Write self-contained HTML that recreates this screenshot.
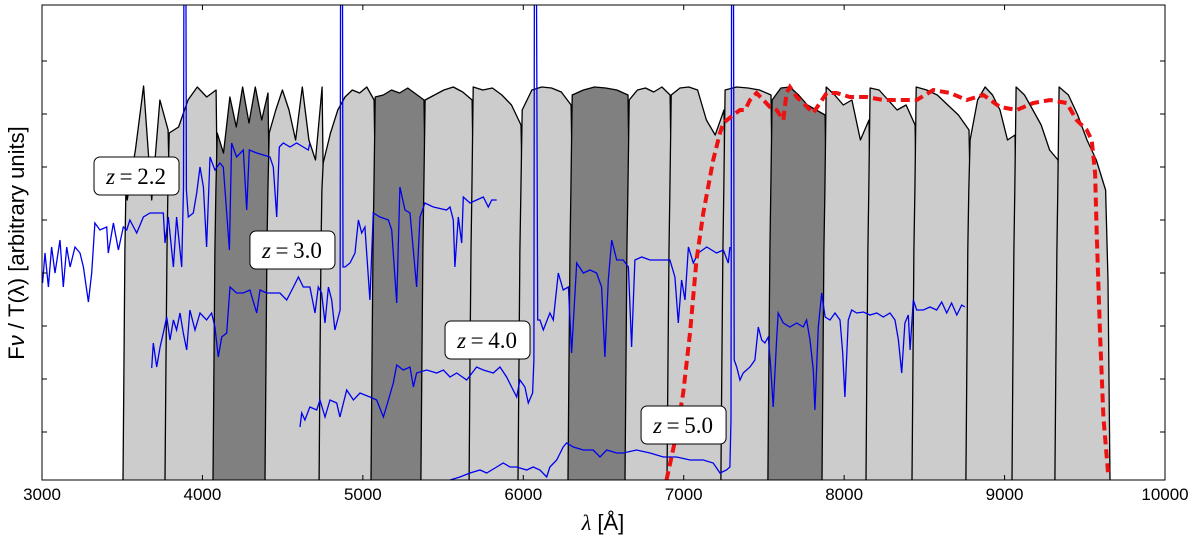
<!DOCTYPE html>
<html><head><meta charset="utf-8">
<style>
html,body{margin:0;padding:0;background:#fff;}
svg{display:block;}
</style></head>
<body>
<svg id="chart" width="1200" height="541" viewBox="0 0 1200 541" xmlns="http://www.w3.org/2000/svg" font-family="Liberation Sans, DejaVu Sans, sans-serif">
<defs><clipPath id="clip"><rect x="42" y="5" width="1123" height="475"/></clipPath></defs>
<g id="plot" clip-path="url(#clip)"></g>
<rect x="42" y="5" width="1123" height="475" fill="none" stroke="#000" stroke-width="1"/>
<g id="axes"></g>
<text x="603" y="530" text-anchor="middle" font-size="22"><tspan style="font-family:'Liberation Serif',serif;font-style:italic">λ</tspan> [Å]</text>
<text transform="translate(24,243) rotate(-90)" text-anchor="middle" font-size="22">F<tspan font-style="italic">ν</tspan> / T(λ) [arbitrary units]</text>
<g id="labels"></g>
</svg>
<script>
const NS="http://www.w3.org/2000/svg";
const xTicks=[3000,4000,5000,6000,7000,8000,9000,10000];
const yTicks=[48,101,154,207,260,313,366,419];
const filterEdges=[3505,3767,4066,4390,4727,5051,5362,5662,5967,6279,6634,6896,7232,7525,7862,8136,8423,8759,9046,9314];
const filterLastEnd=9657;
const filterDark=[0,0,1,0,0,1,0,0,0,1,0,0,0,1,0,0,0,0,0,0];
const filterTops=[
[280,330,394,280,380,350],
[347,353,380,393,383,390],
[347,327,383,353,393,357,393,360,387],
[347,370,390,370,340,393,340,320,393],
[317,347,370,383,390,387,393,380],
[383,385,390,387,392,386,380],
[380,385,390,393,388,380],
[393,390,392,385,375,355],
[370,390,393,392,388,375],
[385,390,393,392,390,385],
[380,390,392,388,393,385],
[385,392,393,390,360,345,370],
[390,393,392,390,385],
[380,392,393,385,375,370,365],
[393,385,375,380,340,360],
[392,390,380,370,375,355],
[393,390,385,375,365,350],
[340,380,393,385,370,340,345],
[393,385,370,355,330,320],
[393,385,365,340,320,290]];
const specZ22=[[3004,197],[3019,227],[3040,193],[3060,233],[3081,207],[3112,240],[3133,193],[3154,233],[3175,213],[3206,233],[3237,227],[3258,213],[3289,178],[3310,207],[3330,257],[3361,250],[3403,253],[3413,227],[3445,257],[3476,230],[3507,253],[3528,250],[3548,260],[3590,247],[3632,263],[3673,267],[3715,267],[3756,267],[3767,237],[3787,263],[3819,213],[3839,263],[3871,213],[3882,293],[3886,600],[3896,600],[3900,290],[3912,263],[3943,267],[3964,287],[3985,313],[4006,293],[4026,233],[4047,323],[4078,310],[4109,317],[4130,313],[4151,267],[4168,230],[4182,337],[4213,323],[4255,330],[4276,270],[4292,330],[4338,327],[4380,325],[4421,323],[4442,313],[4463,263],[4479,333],[4504,337],[4546,333],[4587,337],[4629,333],[4660,330],[4670,337]];
const specZ30=[[3684,112],[3694,137],[3715,113],[3736,133],[3756,147],[3777,163],[3798,140],[3819,160],[3839,150],[3860,167],[3881,147],[3902,130],[3922,170],[3954,150],[3985,167],[4026,160],[4057,167],[4078,153],[4099,123],[4120,143],[4151,147],[4172,193],[4213,187],[4255,187],[4296,190],[4338,167],[4359,190],[4400,187],[4442,187],[4483,187],[4525,180],[4567,193],[4598,203],[4629,193],[4670,193],[4702,167],[4722,193],[4743,187],[4764,157],[4785,193],[4806,180],[4826,150],[4847,163],[4858,170],[4862,600],[4872,600],[4876,213],[4889,213],[4920,217],[4951,227],[4972,260],[4993,247],[5013,253],[5044,180],[5065,267],[5107,263],[5159,260],[5180,250],[5211,177],[5231,293],[5263,270],[5294,267],[5335,193],[5356,263],[5387,277],[5439,273],[5522,270],[5543,273],[5564,260],[5574,213],[5595,263],[5616,237],[5626,283],[5668,277],[5709,280],[5751,283],[5782,273],[5803,280],[5834,280]];
const specZ40=[[4608,53],[4619,67],[4639,60],[4670,73],[4712,70],[4733,80],[4764,63],[4795,80],[4837,77],[4857,63],[4899,90],[4941,80],[4982,87],[5044,83],[5086,80],[5128,63],[5159,80],[5190,97],[5211,115],[5252,110],[5294,113],[5315,93],[5335,107],[5398,110],[5460,107],[5502,110],[5543,103],[5585,107],[5647,100],[5709,113],[5751,110],[5813,107],[5855,113],[5896,103],[5927,93],[5959,83],[5979,100],[6010,93],[6031,77],[6058,87],[6066,120],[6070,600],[6080,600],[6090,160],[6104,160],[6125,150],[6166,167],[6187,160],[6218,207],[6249,190],[6281,193],[6301,127],[6333,217],[6374,207],[6416,210],[6457,207],[6488,193],[6509,123],[6530,200],[6551,240],[6582,220],[6623,220],[6655,213],[6675,133],[6696,220],[6738,223],[6790,220],[6852,220],[6914,220],[6945,203],[6966,157],[6987,200],[7008,180],[7029,233],[7060,217],[7091,227],[7143,233],[7205,227],[7247,230],[7278,217],[7288,233]];
const specZ50=[[5543,0],[5605,3],[5668,7],[5730,10],[5772,7],[5834,13],[5875,17],[5917,13],[5959,13],[6021,10],[6062,13],[6104,10],[6146,3],[6166,13],[6208,20],[6249,33],[6270,37],[6312,33],[6374,30],[6436,30],[6478,23],[6520,30],[6582,27],[6623,27],[6706,30],[6790,27],[6873,23],[6956,23],[7039,20],[7122,20],[7184,17],[7226,7],[7267,10],[7288,13],[7295,60],[7299,600],[7309,600],[7315,120],[7330,113],[7351,100],[7371,107],[7413,113],[7444,120],[7465,153],[7486,140],[7506,137],[7527,143],[7542,113],[7558,73],[7579,140],[7589,167],[7621,157],[7662,153],[7704,157],[7745,153],[7766,160],[7787,140],[7808,110],[7818,70],[7839,153],[7860,187],[7881,163],[7912,160],[7943,167],[7974,160],[7991,127],[8005,83],[8026,160],[8047,170],[8078,167],[8120,168],[8161,165],[8203,167],[8244,163],[8286,167],[8317,160],[8338,140],[8359,107],[8379,157],[8400,165],[8411,130],[8431,180],[8452,170],[8494,170],[8535,173],[8577,170],[8608,178],[8639,167],[8670,177],[8702,165],[8733,175],[8753,173]];
const sedRed=[[6893,0],[6956,47],[6997,87],[7039,147],[7080,220],[7122,267],[7184,320],[7226,347],[7247,357],[7309,365],[7351,370],[7382,370],[7413,380],[7454,387],[7496,380],[7537,373],[7579,370],[7621,360],[7641,387],[7662,393],[7704,383],[7745,377],[7808,367],[7849,377],[7891,387],[7953,387],[8036,383],[8140,383],[8244,380],[8348,380],[8452,380],[8556,390],[8660,387],[8764,380],[8868,385],[8972,373],[9075,370],[9179,377],[9283,380],[9387,377],[9449,360],[9512,350],[9543,340],[9564,307],[9574,247],[9595,147],[9616,63],[9647,3]];
const labelNames=["z=2.2","z=3.0","z=4.0","z=5.0"];
const labelValues=["2.2","3.0","4.0","5.0"];
const labelPos=[[3586,304],[4558,230],[5774,140],[6996,55]];

const X0=3000,X1=10000,PX0=42,PX1=1165,PY0=480;
function xS(l){return PX0+(l-X0)*(PX1-PX0)/(X1-X0);}
function yS(f){return PY0-f;}
function pts(arr){return arr.map(p=>xS(p[0]).toFixed(1)+","+yS(p[1]).toFixed(1)).join(" ");}

const plot=document.getElementById("plot");
for(let i=0;i<filterEdges.length;i++){
  const s=filterEdges[i];
  const last=i===filterEdges.length-1;
  const e=last?filterLastEnd:filterEdges[i+1]+45;
  const tops=filterTops[i];
  const p=[[s,0],[s+6,120],[s+12,230],[s+18,290]];
  const a=s+26,b=last?e-27:e-26;
  for(let k=0;k<tops.length;k++){p.push([a+(b-a)*k/(tops.length-1),tops[k]]);}
  if(last){p.push([e-12,200],[e-5,80],[e,0]);}
  else{p.push([e-18,290],[e-12,230],[e-6,120],[e,0]);}
  const pg=document.createElementNS(NS,"polyline");
  pg.setAttribute("points",pts(p));
  pg.setAttribute("fill",filterDark[i]?"#808080":"#cccccc");
  pg.setAttribute("stroke","#000");
  pg.setAttribute("stroke-width","1.3");
  pg.setAttribute("stroke-linejoin","round");
  
  
  plot.appendChild(pg);
}
const specs=[specZ22,specZ30,specZ40,specZ50];
specs.forEach((sp,i)=>{
  const pl=document.createElementNS(NS,"polyline");
  pl.setAttribute("points",pts(sp));
  pl.setAttribute("fill","none");
  pl.setAttribute("stroke","#0000ee");
  pl.setAttribute("stroke-width","1.3");
  
  
  plot.appendChild(pl);
});
const red=document.createElementNS(NS,"polyline");
red.setAttribute("points",pts(sedRed));
red.setAttribute("fill","none");
red.setAttribute("stroke","#ee1111");
red.setAttribute("stroke-width","4");
red.setAttribute("stroke-dasharray","9,5");


plot.appendChild(red);

const axes=document.getElementById("axes");
xTicks.forEach(t=>{
  const x=xS(t);
  [[PY0,PY0-5],[5,10]].forEach(([y1,y2])=>{
    const l=document.createElementNS(NS,"line");
    l.setAttribute("x1",x);l.setAttribute("x2",x);l.setAttribute("y1",y1);l.setAttribute("y2",y2);
    l.setAttribute("stroke","#000");
    
    
    axes.appendChild(l);
  });
  const tx=document.createElementNS(NS,"text");
  tx.setAttribute("x",x);tx.setAttribute("y",500);
  tx.setAttribute("text-anchor","middle");tx.setAttribute("font-size","17");
  tx.textContent=t;
  
  
  axes.appendChild(tx);
});
yTicks.forEach(t=>{
  const y=yS(t);
  [[PX0,PX0+5],[PX1,PX1-5]].forEach(([x1,x2])=>{
    const l=document.createElementNS(NS,"line");
    l.setAttribute("x1",x1);l.setAttribute("x2",x2);l.setAttribute("y1",y);l.setAttribute("y2",y);
    l.setAttribute("stroke","#000");
    
    
    axes.appendChild(l);
  });
});
const lab=document.getElementById("labels");
labelPos.forEach((p,i)=>{
  const g=document.createElementNS(NS,"g");
  
  
  const cx=xS(p[0]),cy=yS(p[1]);
  const r=document.createElementNS(NS,"rect");
  r.setAttribute("x",cx-42);r.setAttribute("y",cy-19);r.setAttribute("width",85);r.setAttribute("height",38);
  r.setAttribute("rx",6);r.setAttribute("fill","#fff");r.setAttribute("stroke","#000");r.setAttribute("stroke-width","1");
  g.appendChild(r);
  const t=document.createElementNS(NS,"text");
  t.setAttribute("x",cx);t.setAttribute("y",cy+8);t.setAttribute("text-anchor","middle");
  t.setAttribute("font-size","23");
  t.setAttribute("style","font-family:'Liberation Serif','DejaVu Serif',serif");
  t.innerHTML='<tspan font-style="italic">z</tspan>\u2009=\u2009'+labelValues[i];
  g.appendChild(t);
  lab.appendChild(g);
});
</script>
</body></html>
